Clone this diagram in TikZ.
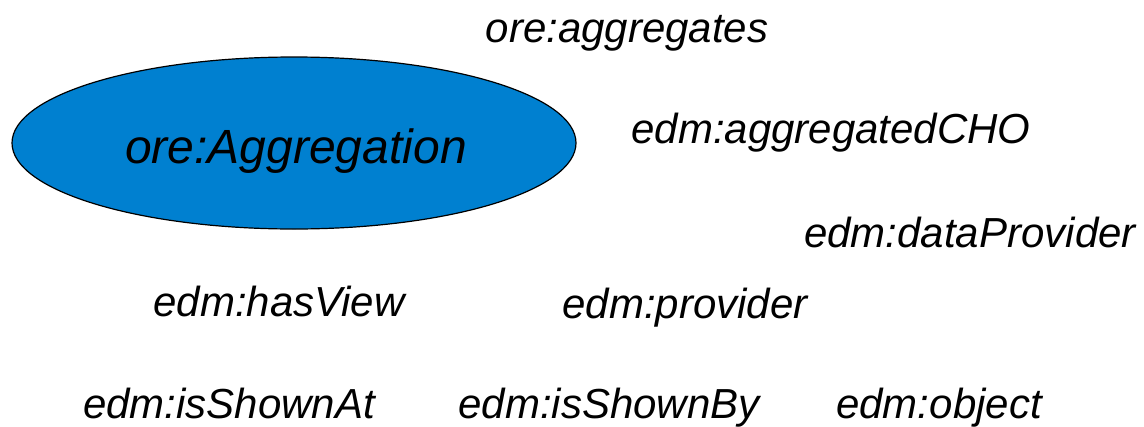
\documentclass[tikz,border=0pt]{standalone}
\usepackage{fontspec}
\setmainfont{Liberation Sans}
\usetikzlibrary{shapes.geometric}
\definecolor{aggblue}{RGB}{0,128,208}
\tikzset{
  lbl/.style={font=\itshape\fontsize{42}{50}\selectfont, anchor=base, inner sep=0pt},
  cls/.style={ellipse, draw=black, line width=1.2pt, fill=aggblue, minimum width=564pt, minimum height=172pt, inner sep=0pt}
}
\begin{document}
\begin{tikzpicture}[x=1pt,y=-1pt]
\useasboundingbox (0,0) rectangle (1144,426);
\node[cls] (agg) at (294,143) {};
\node[lbl, font=\itshape\fontsize{48}{56}\selectfont] (aggtxt) at (296,163) {ore:Aggregation};
\node[lbl] (aggregates) at (627,42) {ore:aggregates};
\node[lbl] (cho) at (831,143) {edm:aggregatedCHO};
\node[lbl] (dp) at (970,247) {edm:dataProvider};
\node[lbl] (hv) at (279,316) {edm:hasView};
\node[lbl] (prov) at (685,318) {edm:provider};
\node[lbl] (isa) at (229,418) {edm:isShownAt};
\node[lbl] (isb) at (609,418) {edm:isShownBy};
\node[lbl] (obj) at (939,418) {edm:object};
\end{tikzpicture}
\end{document}
